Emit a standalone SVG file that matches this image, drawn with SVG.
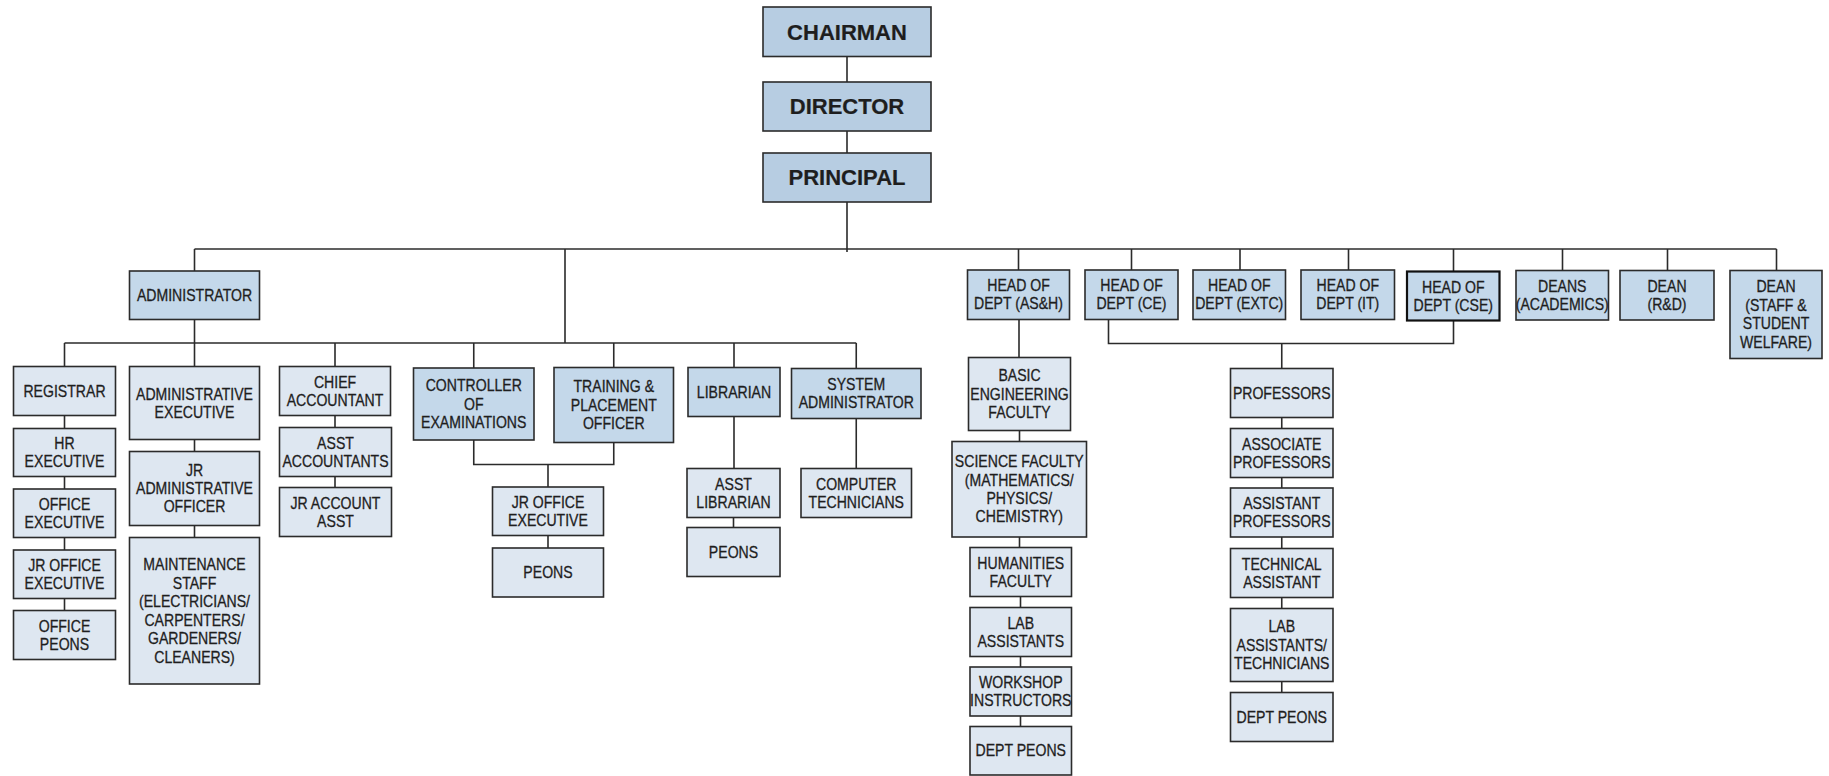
<svg xmlns="http://www.w3.org/2000/svg" width="1829" height="776" viewBox="0 0 1829 776">
<style>
rect{stroke:#2b2b2b;stroke-width:1.6}
.top{fill:#b7cde2}
.lvl{fill:#c4d8ea}
.ch{fill:#dee7f1}
.thick{stroke:#111;stroke-width:2.2}
text{font-family:"Liberation Sans",Arial,sans-serif;font-size:16px;fill:#1e1e1e;stroke:#1e1e1e;stroke-width:0.3;text-anchor:middle}
text.big{font-size:22px;font-weight:bold;stroke-width:0.2}
#connectors path{fill:none;stroke:#2b2b2b;stroke-width:1.6}
</style>
<rect x="0" y="0" width="1829" height="776" fill="#ffffff" style="stroke:none"/>
<g id="connectors">
<path d="M847 56.5V82M847 131V153M847 202V252"/>
<path d="M194.5 249H1776.5"/>
<path d="M194.5 249V271M565 249V343M1018.5 249V270M1131.5 249V270M1240 249V270M1348.5 249V270M1453.5 249V271.5M1562.5 249V270.5M1667.5 249V270.5M1776.5 249V270.5"/>
<path d="M194.5 319.5V366.5M64.5 343H856.25"/>
<path d="M64.5 343V366.5M335 343V366.5M473.75 343V368M613.75 343V367.5M734 343V367.5M856.25 343V368.5"/>
<path d="M64.5 415.5V428.5M64.5 476.5V489M64.5 537.5V550M64.5 598.5V610.5"/>
<path d="M194.5 439.5V451.5M194.5 525.5V537.5"/>
<path d="M335 415.5V427.5M335 476.5V487.5"/>
<path d="M473.75 440V464.5H613.75V442.5M548 464.5V487M548 535.5V548"/>
<path d="M734 416.5V468.5M733.5 517.5V527.5"/>
<path d="M856.25 418.5V468.5"/>
<path d="M1019 319.5V357.5M1019.5 430.5V441.5M1019.5 537V547.5M1020.5 596.5V607.5M1020.5 656.5V667M1020.5 716V726.5"/>
<path d="M1108.5 319.5V343.5H1453.5V321M1281.75 343.5V368.5"/>
<path d="M1281.75 417.5V428.5M1281.75 477.5V488M1281.75 537V548.5M1281.75 597.5V608.5M1281.75 681.5V692.5"/>
</g>
<g id="n-chairman"><rect class="top" x="763" y="7" width="168" height="49.5"/><text class="big" x="847" y="39.6">CHAIRMAN</text></g>
<g id="n-director"><rect class="top" x="763" y="82" width="168" height="49"/><text class="big" x="847" y="114.4">DIRECTOR</text></g>
<g id="n-principal"><rect class="top" x="763" y="153" width="168" height="49"/><text class="big" x="847" y="185.4">PRINCIPAL</text></g>

<g id="n-administrator"><rect class="lvl" x="129.5" y="271" width="130" height="48.5"/><text transform="matrix(.88 0 0 1 194.5 0)"><tspan x="0" y="301">ADMINISTRATOR</tspan></text></g>
<g id="n-hod-ash"><rect class="lvl" x="967.5" y="270" width="102" height="49.5"/><text transform="matrix(.88 0 0 1 1018.5 0)"><tspan x="0" y="291.5">HEAD OF</tspan><tspan x="0" y="309.5">DEPT (AS&amp;H)</tspan></text></g>
<g id="n-hod-ce"><rect class="lvl" x="1085" y="270" width="93" height="49.5"/><text transform="matrix(.88 0 0 1 1131.5 0)"><tspan x="0" y="291.5">HEAD OF</tspan><tspan x="0" y="309.5">DEPT (CE)</tspan></text></g>
<g id="n-hod-extc"><rect class="lvl" x="1193" y="270" width="92.5" height="49.5"/><text transform="matrix(.88 0 0 1 1239.25 0)"><tspan x="0" y="291.5">HEAD OF</tspan><tspan x="0" y="309.5">DEPT (EXTC)</tspan></text></g>
<g id="n-hod-it"><rect class="lvl" x="1301" y="270" width="93.5" height="49.5"/><text transform="matrix(.88 0 0 1 1347.75 0)"><tspan x="0" y="291.5">HEAD OF</tspan><tspan x="0" y="309.5">DEPT (IT)</tspan></text></g>
<g id="n-hod-cse"><rect class="lvl thick" x="1407" y="271.5" width="92.5" height="49"/><text transform="matrix(.88 0 0 1 1453.25 0)"><tspan x="0" y="292.7">HEAD OF</tspan><tspan x="0" y="310.7">DEPT (CSE)</tspan></text></g>
<g id="n-deans-academics"><rect class="lvl" x="1516" y="270.5" width="92.5" height="49.5"/><text transform="matrix(.88 0 0 1 1562.25 0)"><tspan x="0" y="292">DEANS</tspan><tspan x="0" y="310">(ACADEMICS)</tspan></text></g>
<g id="n-dean-rd"><rect class="lvl" x="1620" y="270.5" width="94" height="49.5"/><text transform="matrix(.88 0 0 1 1667 0)"><tspan x="0" y="292">DEAN</tspan><tspan x="0" y="310">(R&amp;D)</tspan></text></g>
<g id="n-dean-welfare"><rect class="lvl" x="1730" y="270.5" width="92" height="88"/><text transform="matrix(.88 0 0 1 1776 0)"><tspan x="0" y="292.5">DEAN</tspan><tspan x="0" y="311">(STAFF &amp;</tspan><tspan x="0" y="329.5">STUDENT</tspan><tspan x="0" y="348">WELFARE)</tspan></text></g>

<g id="n-registrar"><rect class="ch" x="13.5" y="366.5" width="102" height="49"/><text transform="matrix(.88 0 0 1 64.5 0)"><tspan x="0" y="396.7">REGISTRAR</tspan></text></g>
<g id="n-admin-exec"><rect class="ch" x="129.5" y="366.5" width="130" height="73"/><text transform="matrix(.88 0 0 1 194.5 0)"><tspan x="0" y="399.7">ADMINISTRATIVE</tspan><tspan x="0" y="417.7">EXECUTIVE</tspan></text></g>
<g id="n-chief-accountant"><rect class="ch" x="279.5" y="366.5" width="111" height="49"/><text transform="matrix(.88 0 0 1 335 0)"><tspan x="0" y="387.7">CHIEF</tspan><tspan x="0" y="405.7">ACCOUNTANT</tspan></text></g>
<g id="n-controller"><rect class="lvl" x="413.5" y="368" width="120.5" height="72"/><text transform="matrix(.88 0 0 1 473.75 0)"><tspan x="0" y="391.4">CONTROLLER</tspan><tspan x="0" y="409.7">OF</tspan><tspan x="0" y="428">EXAMINATIONS</tspan></text></g>
<g id="n-training"><rect class="lvl" x="554" y="367.5" width="119.5" height="75"/><text transform="matrix(.88 0 0 1 613.75 0)"><tspan x="0" y="392.4">TRAINING &amp;</tspan><tspan x="0" y="410.7">PLACEMENT</tspan><tspan x="0" y="429">OFFICER</tspan></text></g>
<g id="n-librarian"><rect class="lvl" x="688" y="367.5" width="92" height="49"/><text transform="matrix(.88 0 0 1 734 0)"><tspan x="0" y="397.7">LIBRARIAN</tspan></text></g>
<g id="n-sysadmin"><rect class="lvl" x="791.5" y="368.5" width="129.5" height="50"/><text transform="matrix(.88 0 0 1 856.25 0)"><tspan x="0" y="390.2">SYSTEM</tspan><tspan x="0" y="408.2">ADMINISTRATOR</tspan></text></g>

<g id="n-hr-exec"><rect class="ch" x="13.5" y="428.5" width="102" height="48"/><text transform="matrix(.88 0 0 1 64.5 0)"><tspan x="0" y="449.2">HR</tspan><tspan x="0" y="467.2">EXECUTIVE</tspan></text></g>
<g id="n-office-exec"><rect class="ch" x="13.5" y="489" width="102" height="48.5"/><text transform="matrix(.88 0 0 1 64.5 0)"><tspan x="0" y="510">OFFICE</tspan><tspan x="0" y="528">EXECUTIVE</tspan></text></g>
<g id="n-jr-office-exec-1"><rect class="ch" x="13.5" y="550" width="102" height="48.5"/><text transform="matrix(.88 0 0 1 64.5 0)"><tspan x="0" y="571">JR OFFICE</tspan><tspan x="0" y="589">EXECUTIVE</tspan></text></g>
<g id="n-office-peons"><rect class="ch" x="13.5" y="610.5" width="102" height="49"/><text transform="matrix(.88 0 0 1 64.5 0)"><tspan x="0" y="631.7">OFFICE</tspan><tspan x="0" y="649.7">PEONS</tspan></text></g>
<g id="n-jr-admin-officer"><rect class="ch" x="129.5" y="451.5" width="130" height="74"/><text transform="matrix(.88 0 0 1 194.5 0)"><tspan x="0" y="475.9">JR</tspan><tspan x="0" y="494.2">ADMINISTRATIVE</tspan><tspan x="0" y="512.5">OFFICER</tspan></text></g>
<g id="n-maintenance"><rect class="ch" x="129.5" y="537.5" width="130" height="146.5"/><text transform="matrix(.88 0 0 1 194.5 0)"><tspan x="0" y="570.2">MAINTENANCE</tspan><tspan x="0" y="588.7">STAFF</tspan><tspan x="0" y="607.2">(ELECTRICIANS/</tspan><tspan x="0" y="625.7">CARPENTERS/</tspan><tspan x="0" y="644.2">GARDENERS/</tspan><tspan x="0" y="662.7">CLEANERS)</tspan></text></g>
<g id="n-asst-accountants"><rect class="ch" x="279.5" y="427.5" width="112" height="49"/><text transform="matrix(.88 0 0 1 335.5 0)"><tspan x="0" y="448.7">ASST</tspan><tspan x="0" y="466.7">ACCOUNTANTS</tspan></text></g>
<g id="n-jr-account-asst"><rect class="ch" x="279.5" y="487.5" width="112" height="49"/><text transform="matrix(.88 0 0 1 335.5 0)"><tspan x="0" y="508.7">JR ACCOUNT</tspan><tspan x="0" y="526.7">ASST</tspan></text></g>
<g id="n-jr-office-exec-2"><rect class="ch" x="492.5" y="487" width="111" height="48.5"/><text transform="matrix(.88 0 0 1 548 0)"><tspan x="0" y="508">JR OFFICE</tspan><tspan x="0" y="526">EXECUTIVE</tspan></text></g>
<g id="n-peons-1"><rect class="ch" x="492.5" y="548" width="111" height="49"/><text transform="matrix(.88 0 0 1 548 0)"><tspan x="0" y="578.2">PEONS</tspan></text></g>
<g id="n-asst-librarian"><rect class="ch" x="687" y="468.5" width="93" height="49"/><text transform="matrix(.88 0 0 1 733.5 0)"><tspan x="0" y="489.7">ASST</tspan><tspan x="0" y="507.7">LIBRARIAN</tspan></text></g>
<g id="n-peons-2"><rect class="ch" x="687" y="527.5" width="93" height="49"/><text transform="matrix(.88 0 0 1 733.5 0)"><tspan x="0" y="557.7">PEONS</tspan></text></g>
<g id="n-computer-tech"><rect class="ch" x="801" y="468.5" width="110.5" height="49"/><text transform="matrix(.88 0 0 1 856.25 0)"><tspan x="0" y="489.7">COMPUTER</tspan><tspan x="0" y="507.7">TECHNICIANS</tspan></text></g>

<g id="n-basic-eng"><rect class="ch" x="968.5" y="357.5" width="102" height="73"/><text transform="matrix(.88 0 0 1 1019.5 0)"><tspan x="0" y="381.4">BASIC</tspan><tspan x="0" y="399.7">ENGINEERING</tspan><tspan x="0" y="418">FACULTY</tspan></text></g>
<g id="n-science"><rect class="ch" x="952" y="441.5" width="134.5" height="95.5"/><text transform="matrix(.88 0 0 1 1019.25 0)"><tspan x="0" y="467.5">SCIENCE FACULTY</tspan><tspan x="0" y="485.8">(MATHEMATICS/</tspan><tspan x="0" y="504.1">PHYSICS/</tspan><tspan x="0" y="522.4">CHEMISTRY)</tspan></text></g>
<g id="n-humanities"><rect class="ch" x="970" y="547.5" width="101.5" height="49"/><text transform="matrix(.88 0 0 1 1020.75 0)"><tspan x="0" y="568.7">HUMANITIES</tspan><tspan x="0" y="586.7">FACULTY</tspan></text></g>
<g id="n-lab-assistants"><rect class="ch" x="970" y="607.5" width="101.5" height="49"/><text transform="matrix(.88 0 0 1 1020.75 0)"><tspan x="0" y="628.7">LAB</tspan><tspan x="0" y="646.7">ASSISTANTS</tspan></text></g>
<g id="n-workshop"><rect class="ch" x="970" y="667" width="101.5" height="49"/><text transform="matrix(.88 0 0 1 1020.75 0)"><tspan x="0" y="688.2">WORKSHOP</tspan><tspan x="0" y="706.2">INSTRUCTORS</tspan></text></g>
<g id="n-dept-peons-1"><rect class="ch" x="970" y="726.5" width="101.5" height="48.5"/><text transform="matrix(.88 0 0 1 1020.75 0)"><tspan x="0" y="756.4">DEPT PEONS</tspan></text></g>

<g id="n-professors"><rect class="ch" x="1230.5" y="368.5" width="102.5" height="49"/><text transform="matrix(.88 0 0 1 1281.75 0)"><tspan x="0" y="398.7">PROFESSORS</tspan></text></g>
<g id="n-assoc-prof"><rect class="ch" x="1230.5" y="428.5" width="102.5" height="49"/><text transform="matrix(.88 0 0 1 1281.75 0)"><tspan x="0" y="449.7">ASSOCIATE</tspan><tspan x="0" y="467.7">PROFESSORS</tspan></text></g>
<g id="n-asst-prof"><rect class="ch" x="1230.5" y="488" width="102.5" height="49"/><text transform="matrix(.88 0 0 1 1281.75 0)"><tspan x="0" y="509.2">ASSISTANT</tspan><tspan x="0" y="527.2">PROFESSORS</tspan></text></g>
<g id="n-tech-asst"><rect class="ch" x="1230.5" y="548.5" width="102.5" height="49"/><text transform="matrix(.88 0 0 1 1281.75 0)"><tspan x="0" y="569.7">TECHNICAL</tspan><tspan x="0" y="587.7">ASSISTANT</tspan></text></g>
<g id="n-lab-tech"><rect class="ch" x="1230.5" y="608.5" width="102.5" height="73"/><text transform="matrix(.88 0 0 1 1281.75 0)"><tspan x="0" y="632.4">LAB</tspan><tspan x="0" y="650.7">ASSISTANTS/</tspan><tspan x="0" y="669">TECHNICIANS</tspan></text></g>
<g id="n-dept-peons-2"><rect class="ch" x="1230.5" y="692.5" width="102.5" height="49"/><text transform="matrix(.88 0 0 1 1281.75 0)"><tspan x="0" y="722.7">DEPT PEONS</tspan></text></g>
</svg>
